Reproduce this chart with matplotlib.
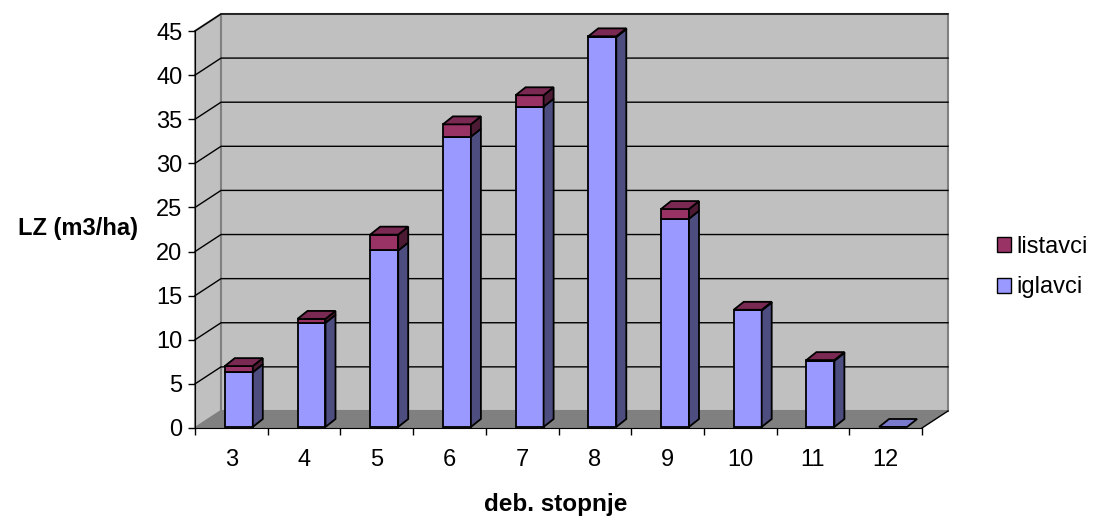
import matplotlib
matplotlib.use("Agg")
import matplotlib.pyplot as plt
from matplotlib.patches import Polygon, Patch

plt.rcParams['font.family'] = ['Liberation Sans', 'DejaVu Sans']

# data
categories = ["3", "4", "5", "6", "7", "8", "9", "10", "11", "12"]
iglavci = [6.2, 11.8, 20.0, 32.9, 36.3, 44.2, 23.6, 13.2, 7.5, 0.0]
listavci = [0.7, 0.45, 1.8, 1.4, 1.3, 0.08, 1.1, 0.08, 0.08, 0.0]
yticks = list(range(0, 50, 5))

# colours (excel 2003 style)
wall_c = "#C0C0C0"
floor_c = "#808080"
igl = dict(front="#9999FF", side="#4D4D80", top="#7A7ACC")
lis = dict(front="#993366", side="#4D1A33", top="#7A2952")

# 3d offsets in data units
wall_dx, wall_dy = 0.358, 1.93
bar_dx, bar_dy = 0.1375, 0.9
bar_left, bar_w = 0.41, 0.385
base_y = 0.12
ymax = 45

fig = plt.figure(figsize=(10.98, 5.19), dpi=100)
ax = fig.add_axes([195 / 1098, (519 - 428) / 519, 727 / 1098, 397 / 519])
ax.set_xlim(0, len(categories))
ax.set_ylim(0, ymax)
ax.patch.set_visible(False)

n = len(categories)


def poly(pts, fc, ec="black", lw=1.3, z=1):
    ax.add_patch(Polygon(pts, closed=True, fc=fc, ec=ec, lw=lw,
                         clip_on=False, zorder=z, joinstyle="miter"))


# side panel, back wall, floor
poly([(0, 0), (wall_dx, wall_dy), (wall_dx, ymax + wall_dy), (0, ymax)],
     wall_c, ec="#808080", lw=1.5, z=0.5)
poly([(wall_dx, wall_dy), (n + wall_dx, wall_dy),
      (n + wall_dx, ymax + wall_dy), (wall_dx, ymax + wall_dy)],
     wall_c, ec="#808080", lw=1.5, z=0.5)
poly([(0, 0), (n, 0), (n + wall_dx, wall_dy), (wall_dx, wall_dy)],
     floor_c, ec="none", lw=0, z=0.6)
ax.plot([n, n + wall_dx], [0, wall_dy], color="black", lw=1,
        clip_on=False, zorder=0.7)

# gridlines
for v in yticks[1:]:
    ax.plot([0, wall_dx, n + wall_dx], [v, v + wall_dy, v + wall_dy],
            color="black", lw=1, clip_on=False, zorder=0.8)

# bars
for i in range(n):
    x0 = i + bar_left
    x1 = x0 + bar_w
    bottom = base_y
    segs = [(iglavci[i], igl), (listavci[i], lis)]
    for val, c in segs:
        top = bottom + val
        if val > 0:
            poly([(x0, bottom), (x1, bottom), (x1, top), (x0, top)], c["front"])
            poly([(x1, bottom), (x1 + bar_dx, bottom + bar_dy),
                  (x1 + bar_dx, top + bar_dy), (x1, top)], c["side"])
        bottom = top
    cap = lis if listavci[i] > 0 else igl
    poly([(x0, bottom), (x1, bottom), (x1 + bar_dx, bottom + bar_dy),
          (x0 + bar_dx, bottom + bar_dy)], cap["top"])

# axes
for s in ["top", "right"]:
    ax.spines[s].set_visible(False)
ax.spines["left"].set_color("black")
ax.spines["bottom"].set_color("black")
ax.set_yticks(yticks)
ax.set_yticklabels([str(v) for v in yticks], fontsize=17)
ax.set_xticks(range(n + 1))
ax.set_xticklabels([])
ax.set_xticks([i + 0.5 for i in range(n)], minor=True)
ax.set_xticklabels(categories, minor=True, fontsize=17)
ax.tick_params(axis="both", which="major", direction="out", length=5,
               width=1, color="black")
ax.tick_params(axis="y", pad=4)
ax.tick_params(axis="x", which="minor", length=0, pad=15)

fig.text(78 / 1098, 1 - 229 / 519, "LZ (m3/ha)", fontsize=17,
         fontweight="bold", ha="center", va="center")
fig.text(556 / 1098, 1 - 505 / 519, "deb. stopnje", fontsize=17.5,
         fontweight="bold", ha="center", va="center")

fig.legend(handles=[Patch(fc=lis["front"], ec="black", label="listavci"),
                    Patch(fc=igl["front"], ec="black", label="iglavci")],
           loc="center left", bbox_to_anchor=(985 / 1098, 1 - 267 / 519),
           frameon=False, fontsize=17, handlelength=0.6, handleheight=0.6,
           handletextpad=0.25, labelspacing=0.8, borderpad=0)

fig.savefig("out.png", dpi=100)
